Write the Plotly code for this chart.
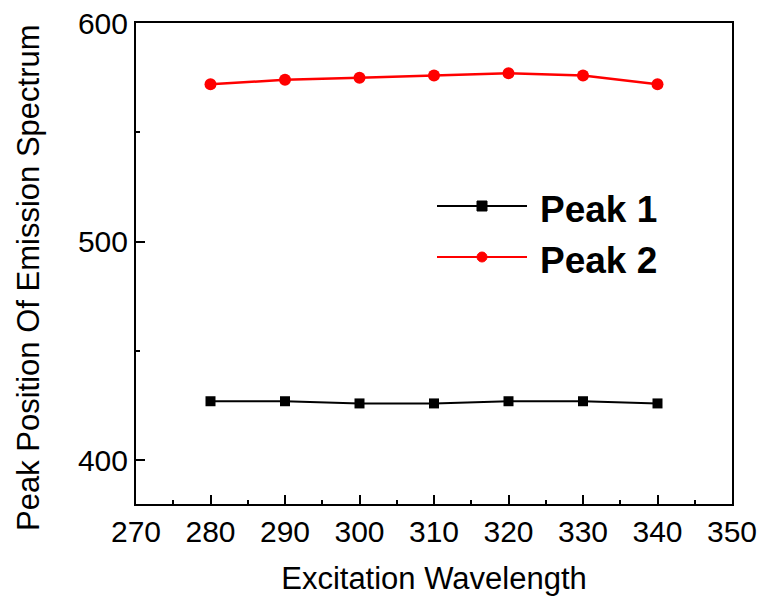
import plotly.graph_objects as go

# Excitation wavelengths (nm) and emission peak positions (nm)
excitation = [280, 290, 300, 310, 320, 330, 340]
peak1 = [427, 427, 426, 426, 427, 427, 426]
peak2 = [572, 574, 575, 576, 577, 576, 572]

series_names = ["Peak 1", "Peak 2"]
x_ticks = [270, 280, 290, 300, 310, 320, 330, 340, 350]
y_ticks = [400, 500, 600]

FONT = "Liberation Sans, Arial, sans-serif"

fig = go.Figure()
fig.add_trace(go.Scatter(
    x=excitation, y=peak1, mode="lines+markers", name=series_names[0],
    line=dict(color="black", width=2),
    marker=dict(symbol="square", size=10, color="black"),
))
fig.add_trace(go.Scatter(
    x=excitation, y=peak2, mode="lines+markers", name=series_names[1],
    line=dict(color="#ff0000", width=2.5),
    marker=dict(symbol="circle", size=12, color="#ff0000"),
))

# Hand-built legend inside the plot area (long sample lines)
W, H = 761, 598
L, R, T, B = 136, 29, 23, 94
pw, ph = W - L - R, H - T - B


def px_x(px):
    return (px - L) / pw


def px_y(py):
    return (H - B - py) / ph


legend_rows = [
    (206, "black", "rect", series_names[0]),
    (257, "#ff0000", "circle", series_names[1]),
]
for py, col, shape, label in legend_rows:
    fig.add_shape(type="line", xref="paper", yref="paper",
                  x0=px_x(437), x1=px_x(527), y0=px_y(py), y1=px_y(py),
                  line=dict(color=col, width=2))
    fig.add_shape(type=shape, xref="paper", yref="paper",
                  xsizemode="pixel", ysizemode="pixel",
                  xanchor=px_x(482), yanchor=px_y(py),
                  x0=-5, x1=5, y0=-5, y1=5,
                  fillcolor=col, line=dict(color=col, width=1))
    fig.add_annotation(xref="paper", yref="paper", x=px_x(538), y=px_y(py + 3),
                       text=f"<b>{label}</b>", showarrow=False,
                       xanchor="left", yanchor="middle",
                       font=dict(family=FONT, size=37, color="black"))

# Vertical axis title, placed a little below the plot's vertical centre
fig.add_annotation(xref="paper", yref="paper", x=px_x(28), y=px_y(278),
                   text="Peak Position Of Emission Spectrum", textangle=-90,
                   showarrow=False, xanchor="center", yanchor="middle",
                   font=dict(family=FONT, size=31, color="black"))

axis_common = dict(
    showgrid=False, zeroline=False, automargin=False,
    showline=True, linecolor="black", linewidth=2, mirror=True,
    ticks="inside", ticklen=9, tickwidth=2, tickcolor="black",
    tickfont=dict(family=FONT, size=30, color="black"),
)

fig.update_xaxes(
    range=[270, 350], tickvals=x_ticks,
    minor=dict(dtick=5, ticks="inside", ticklen=4, tickwidth=2, tickcolor="black"),
    title=dict(text="Excitation Wavelength", standoff=20,
               font=dict(family=FONT, size=31, color="black")),
    **axis_common,
)
fig.update_yaxes(
    range=[380, 600], tickvals=y_ticks,
    minor=dict(dtick=50, ticks="inside", ticklen=4, tickwidth=2, tickcolor="black"),
    **axis_common,
)

fig.update_layout(
    width=W, height=H,
    margin=dict(l=L, r=R, t=T, b=B),
    plot_bgcolor="white", paper_bgcolor="white",
    showlegend=False,
)

fig.write_html("out.html")
